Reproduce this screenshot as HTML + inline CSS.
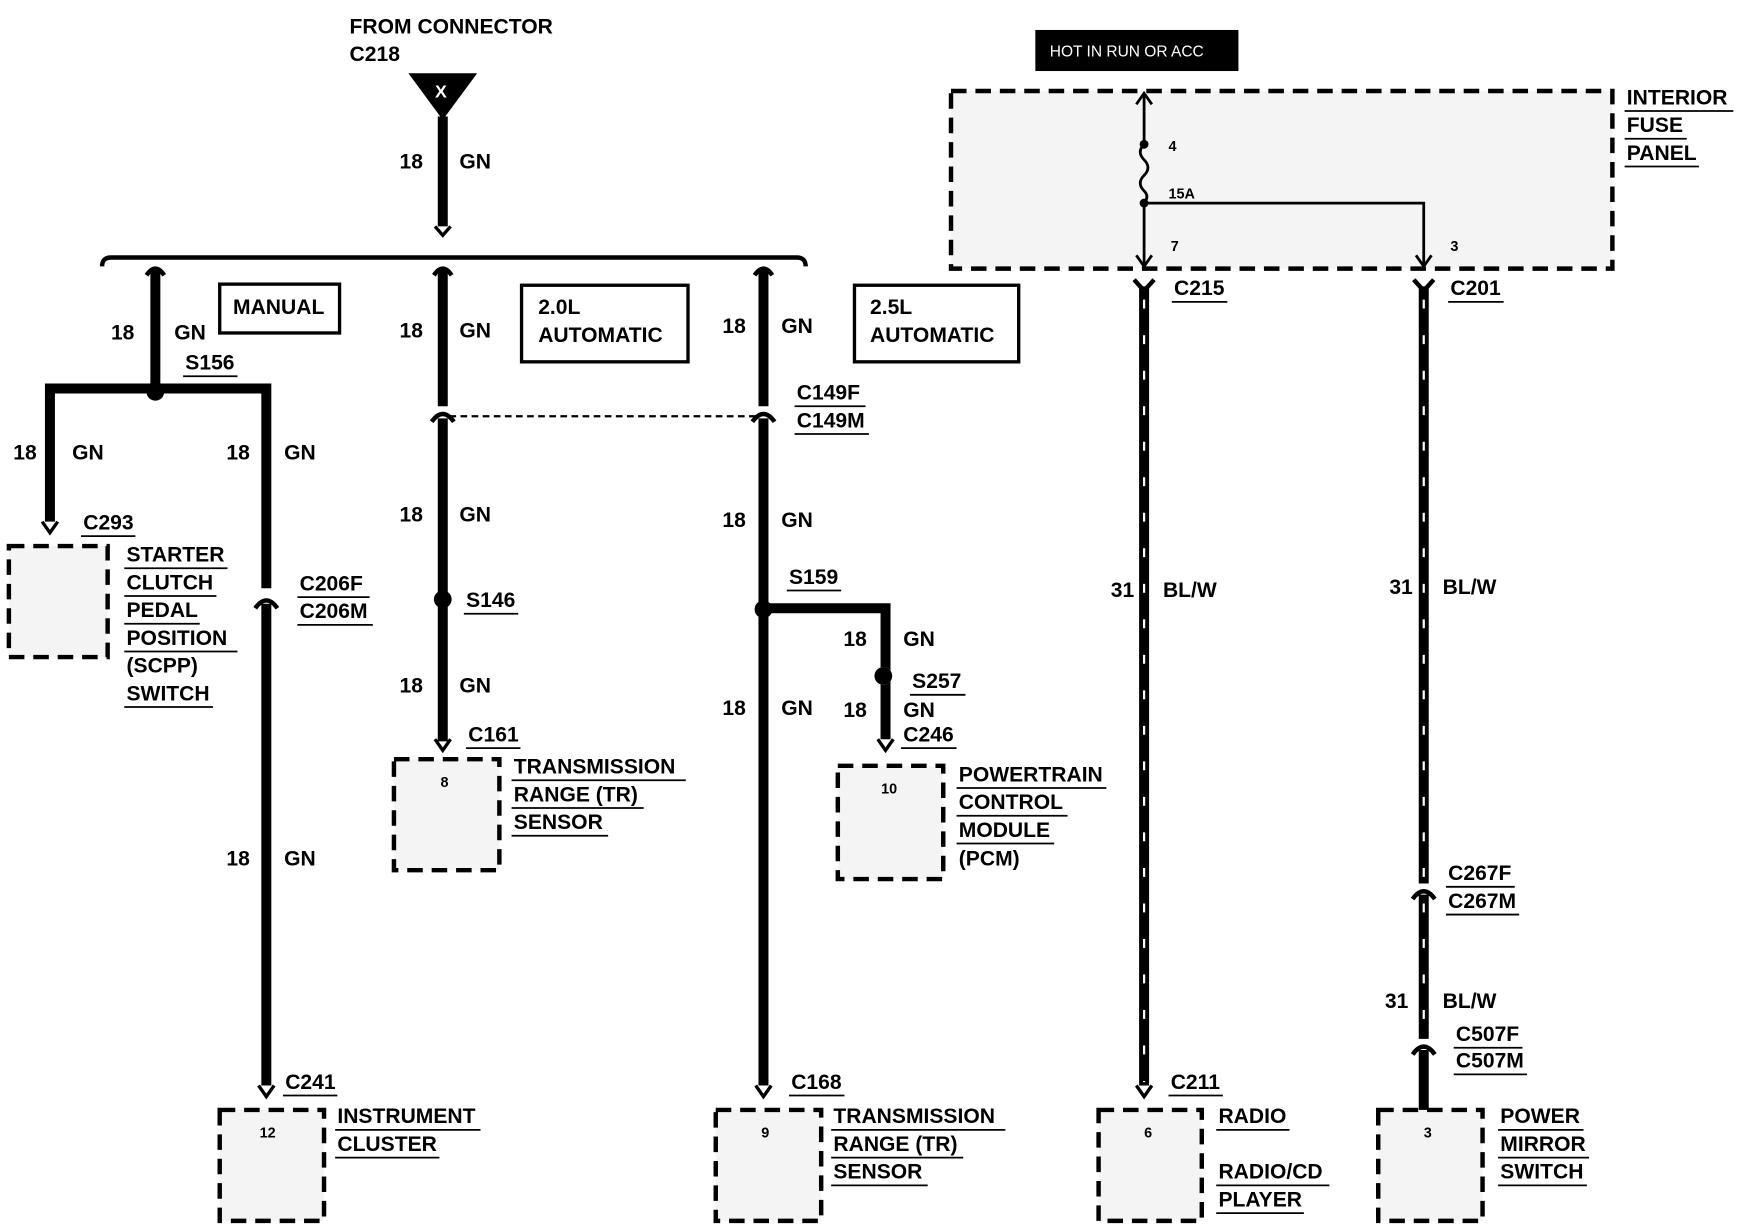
<!DOCTYPE html>
<html><head><meta charset="utf-8"><style>
html,body{margin:0;padding:0;background:#fff}
svg{display:block}
text{font-family:"Liberation Sans",sans-serif;font-weight:bold;font-size:19px;fill:#000}
.u{stroke:#000;stroke-width:1.6}
.w{stroke:#000;stroke-width:9;fill:none}
.box{fill:#f4f4f4;stroke:#000;stroke-width:4;stroke-dasharray:14 8}
.sm{font-size:13px}
</style></head><body>
<svg width="1740" height="1232" viewBox="0 0 1568 1110" preserveAspectRatio="none" xmlns="http://www.w3.org/2000/svg">
<defs>
<pattern id="st" width="9" height="7" patternUnits="userSpaceOnUse"><rect width="9" height="7" fill="#f6f6f6"/><rect x="2" y="3" width="1" height="1" fill="#999"/></pattern>
</defs>
<!-- top source -->
<text x="315" y="30">FROM CONNECTOR</text>
<text x="315" y="55">C218</text>
<polygon points="368,66 430,66 399,108" fill="#000"/>
<text x="392" y="88" style="fill:#fff;font-size:16px">X</text>
<line class="w" x1="399" y1="105" x2="399" y2="204"/>
<path d="M392,204 L399,212 L406,204" stroke="#000" stroke-width="3" fill="none"/>
<text x="360" y="152">18</text><text x="414" y="152">GN</text>
<path d="M92,240 Q92,232 100,232 L718,232 Q726,232 726,240" stroke="#000" stroke-width="4" fill="none"/>
<!-- branch connectors -->
<path d="M132,248 Q140,236 148,248 M391,248 Q399,236 407,248 M680,248 Q688,236 696,248" stroke="#000" stroke-width="4" fill="none"/>
<!-- Branch 1 manual -->
<line class="w" x1="140" y1="244" x2="140" y2="350"/>
<text x="100" y="306">18</text><text x="157" y="306">GN</text>
<text x="167" y="333">S156</text><line class="u" x1="165" y1="339" x2="214" y2="339"/>
<rect x="198" y="256" width="108" height="44" fill="none" stroke="#000" stroke-width="3"/>
<text x="210" y="283">MANUAL</text>
<path class="w" d="M45,470 L45,350 L240,350 L240,530"/>
<circle cx="140" cy="353" r="8" fill="#000"/>
<path d="M38,470 L45,480 L52,470" stroke="#000" stroke-width="3" fill="none"/>
<text x="12" y="414">18</text><text x="65" y="414">GN</text>
<text x="204" y="414">18</text><text x="256" y="414">GN</text>
<text x="75" y="477">C293</text><line class="u" x1="73" y1="483" x2="122" y2="483"/>
<rect class="box" x="8" y="492" width="89" height="100" fill="url(#st)"/>
<text x="114" y="506">STARTER</text><line class="u" x1="112" y1="512" x2="205" y2="512"/>
<text x="114" y="531">CLUTCH</text><line class="u" x1="112" y1="537" x2="195" y2="537"/>
<text x="114" y="556">PEDAL</text><line class="u" x1="112" y1="562" x2="180" y2="562"/>
<text x="114" y="581">POSITION</text><line class="u" x1="112" y1="587" x2="214" y2="587"/>
<text x="114" y="606">(SCPP)</text>
<text x="114" y="631">SWITCH</text><line class="u" x1="112" y1="637" x2="192" y2="637"/>
<path d="M230,548 Q240,534 250,548" stroke="#000" stroke-width="4" fill="none"/>
<line class="w" x1="240" y1="544" x2="240" y2="978"/>
<text x="270" y="532">C206F</text><line class="u" x1="268" y1="538" x2="333" y2="538"/>
<text x="270" y="557">C206M</text><line class="u" x1="268" y1="563" x2="336" y2="563"/>
<text x="204" y="780">18</text><text x="256" y="780">GN</text>
<path d="M233,978 L240,988 L247,978" stroke="#000" stroke-width="3" fill="none"/>
<text x="257" y="981">C241</text><line class="u" x1="255" y1="987" x2="304" y2="987"/>
<rect class="box" x="198" y="1000" width="94" height="100" fill="url(#st)"/>
<text x="234" y="1025" class="sm">12</text>
<text x="304" y="1012">INSTRUMENT</text><line class="u" x1="302" y1="1018" x2="433" y2="1018"/>
<text x="304" y="1037">CLUSTER</text><line class="u" x1="302" y1="1043" x2="396" y2="1043"/>
<!-- Branch 2 -->
<line class="w" x1="399" y1="244" x2="399" y2="366"/>
<path d="M389,380 Q399,366 409,380" stroke="#000" stroke-width="4" fill="none"/>
<line class="w" x1="399" y1="377" x2="399" y2="668"/>
<text x="360" y="304">18</text><text x="414" y="304">GN</text>
<rect x="470" y="257" width="150" height="69" fill="none" stroke="#000" stroke-width="3"/>
<text x="485" y="283">2.0L</text><text x="485" y="308">AUTOMATIC</text>
<line x1="405" y1="375" x2="682" y2="375" stroke="#000" stroke-width="2" stroke-dasharray="6 4"/>
<text x="360" y="470">18</text><text x="414" y="470">GN</text>
<circle cx="399" cy="540" r="8" fill="#000"/>
<text x="420" y="547">S146</text><line class="u" x1="418" y1="553" x2="467" y2="553"/>
<text x="360" y="624">18</text><text x="414" y="624">GN</text>
<path d="M392,666 L399,676 L406,666" stroke="#000" stroke-width="3" fill="none"/>
<text x="422" y="668">C161</text><line class="u" x1="420" y1="674" x2="469" y2="674"/>
<rect class="box" x="355" y="684" width="95" height="100" fill="url(#st)"/>
<text x="397" y="709" class="sm">8</text>
<text x="463" y="697">TRANSMISSION</text><line class="u" x1="461" y1="703" x2="618" y2="703"/>
<text x="463" y="722">RANGE (TR)</text><line class="u" x1="461" y1="728" x2="580" y2="728"/>
<text x="463" y="747">SENSOR</text><line class="u" x1="461" y1="753" x2="548" y2="753"/>
<!-- Branch 3 -->
<line class="w" x1="688" y1="244" x2="688" y2="366"/>
<path d="M678,380 Q688,366 698,380" stroke="#000" stroke-width="4" fill="none"/>
<line class="w" x1="688" y1="377" x2="688" y2="978"/>
<text x="651" y="300">18</text><text x="704" y="300">GN</text>
<rect x="770" y="257" width="148" height="69" fill="none" stroke="#000" stroke-width="3"/>
<text x="784" y="283">2.5L</text><text x="784" y="308">AUTOMATIC</text>
<text x="718" y="360">C149F</text><line class="u" x1="716" y1="366" x2="780" y2="366"/>
<text x="718" y="385">C149M</text><line class="u" x1="716" y1="391" x2="783" y2="391"/>
<text x="651" y="475">18</text><text x="704" y="475">GN</text>
<path class="w" d="M688,548 L798,548 L798,666"/>
<circle cx="688" cy="549" r="8" fill="#000"/>
<circle cx="796" cy="609" r="8" fill="#fff"/><circle cx="796" cy="609" r="8" fill="#000"/>
<text x="711" y="526">S159</text><line class="u" x1="709" y1="532" x2="758" y2="532"/>
<text x="760" y="582">18</text><text x="814" y="582">GN</text>
<text x="822" y="620">S257</text><line class="u" x1="820" y1="626" x2="870" y2="626"/>
<text x="760" y="646">18</text><text x="814" y="646">GN</text>
<text x="814" y="668">C246</text><line class="u" x1="812" y1="674" x2="862" y2="674"/>
<path d="M791,666 L798,676 L805,666" stroke="#000" stroke-width="3" fill="none"/>
<rect class="box" x="755" y="690" width="95" height="102" fill="url(#st)"/>
<text x="794" y="715" class="sm">10</text>
<text x="864" y="704">POWERTRAIN</text><line class="u" x1="862" y1="710" x2="997" y2="710"/>
<text x="864" y="729">CONTROL</text><line class="u" x1="862" y1="735" x2="962" y2="735"/>
<text x="864" y="754">MODULE</text><line class="u" x1="862" y1="760" x2="950" y2="760"/>
<text x="864" y="780">(PCM)</text>
<text x="651" y="644">18</text><text x="704" y="644">GN</text>
<path d="M681,978 L688,988 L695,978" stroke="#000" stroke-width="3" fill="none"/>
<text x="713" y="981">C168</text><line class="u" x1="711" y1="987" x2="761" y2="987"/>
<rect class="box" x="645" y="1000" width="95" height="100" fill="url(#st)"/>
<text x="686" y="1025" class="sm">9</text>
<text x="751" y="1012">TRANSMISSION</text><line class="u" x1="749" y1="1018" x2="906" y2="1018"/>
<text x="751" y="1037">RANGE (TR)</text><line class="u" x1="749" y1="1043" x2="868" y2="1043"/>
<text x="751" y="1062">SENSOR</text><line class="u" x1="749" y1="1068" x2="836" y2="1068"/>
<!-- Fuse panel -->
<rect x="933" y="27" width="183" height="37" fill="#000"/>
<text x="946" y="51" style="fill:#fff;font-size:14px;font-weight:normal">HOT IN RUN OR ACC</text>
<rect class="box" x="857" y="82" width="596" height="160" fill="url(#st)"/>
<text x="1466" y="94">INTERIOR</text><line class="u" x1="1464" y1="100" x2="1562" y2="100"/>
<text x="1466" y="119">FUSE</text><line class="u" x1="1464" y1="125" x2="1520" y2="125"/>
<text x="1466" y="144">PANEL</text><line class="u" x1="1464" y1="150" x2="1531" y2="150"/>
<path d="M1031,86 L1031,130 Q1024,137 1031,144 Q1038,151 1031,158 Q1024,165 1031,172 Q1036,177 1031,183 L1031,238 M1031,183 L1283,183 L1283,238" stroke="#000" stroke-width="2.5" fill="none"/>
<path d="M1024,94 L1031,84 L1038,94 M1024,230 L1031,240 L1038,230 M1276,230 L1283,240 L1290,230" stroke="#000" stroke-width="2.5" fill="none"/>
<circle cx="1031" cy="130" r="4" fill="#000"/><circle cx="1031" cy="183" r="4" fill="#000"/>
<text x="1053" y="136" class="sm">4</text><text x="1053" y="179" class="sm">15A</text>
<text x="1055" y="226" class="sm">7</text><text x="1307" y="226" class="sm">3</text>
<!-- right wires -->
<path d="M1022,252 L1031,262 L1040,252 M1274,252 L1283,262 L1292,252" stroke="#000" stroke-width="4" fill="none"/>
<line class="w" x1="1031" y1="258" x2="1031" y2="978"/>
<line x1="1031" y1="270" x2="1031" y2="975" stroke="#fff" stroke-width="2" stroke-dasharray="8 24"/>
<text x="1058" y="266">C215</text><line class="u" x1="1056" y1="272" x2="1106" y2="272"/>
<text x="1001" y="538">31</text><text x="1048" y="538">BL/W</text>
<path d="M1024,978 L1031,988 L1038,978" stroke="#000" stroke-width="3" fill="none"/>
<text x="1055" y="981">C211</text><line class="u" x1="1053" y1="987" x2="1102" y2="987"/>
<rect class="box" x="990" y="1000" width="93" height="100" fill="url(#st)"/>
<text x="1031" y="1025" class="sm">6</text>
<text x="1098" y="1012">RADIO</text><line class="u" x1="1096" y1="1018" x2="1162" y2="1018"/>
<text x="1098" y="1062">RADIO/CD</text><line class="u" x1="1096" y1="1068" x2="1198" y2="1068"/>
<text x="1098" y="1087">PLAYER</text><line class="u" x1="1096" y1="1093" x2="1175" y2="1093"/>
<line class="w" x1="1283" y1="258" x2="1283" y2="796"/>
<path d="M1273,810 Q1283,796 1293,810" stroke="#000" stroke-width="4" fill="none"/>
<line class="w" x1="1283" y1="806" x2="1283" y2="936"/>
<path d="M1273,950 Q1283,936 1293,950" stroke="#000" stroke-width="4" fill="none"/>
<line class="w" x1="1283" y1="946" x2="1283" y2="1004"/>
<line x1="1283" y1="270" x2="1283" y2="930" stroke="#fff" stroke-width="2" stroke-dasharray="8 24"/>
<text x="1307" y="266">C201</text><line class="u" x1="1305" y1="272" x2="1355" y2="272"/>
<text x="1252" y="535">31</text><text x="1300" y="535">BL/W</text>
<text x="1305" y="793">C267F</text><line class="u" x1="1303" y1="799" x2="1365" y2="799"/>
<text x="1305" y="818">C267M</text><line class="u" x1="1303" y1="824" x2="1369" y2="824"/>
<text x="1248" y="908">31</text><text x="1300" y="908">BL/W</text>
<text x="1312" y="938">C507F</text><line class="u" x1="1310" y1="944" x2="1372" y2="944"/>
<text x="1312" y="962">C507M</text><line class="u" x1="1310" y1="968" x2="1376" y2="968"/>
<rect class="box" x="1242" y="1000" width="94" height="100" fill="url(#st)"/>
<text x="1283" y="1025" class="sm">3</text>
<text x="1352" y="1012">POWER</text><line class="u" x1="1350" y1="1018" x2="1427" y2="1018"/>
<text x="1352" y="1037">MIRROR</text><line class="u" x1="1350" y1="1043" x2="1432" y2="1043"/>
<text x="1352" y="1062">SWITCH</text><line class="u" x1="1350" y1="1068" x2="1430" y2="1068"/>
</svg>
</body></html>
